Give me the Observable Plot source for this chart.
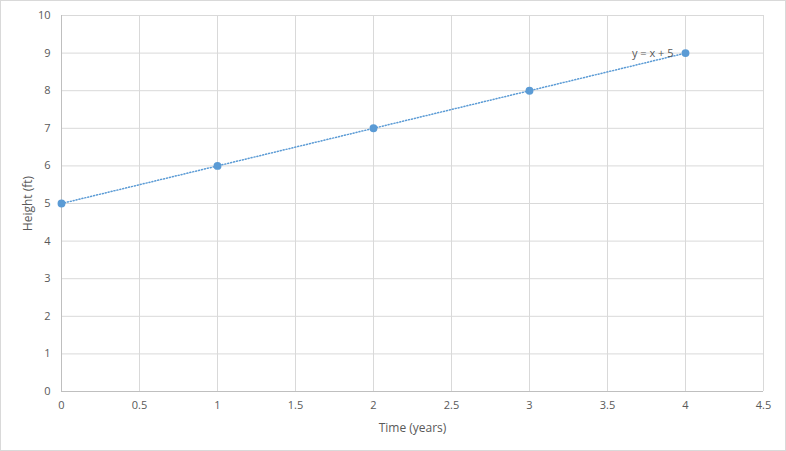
<!DOCTYPE html>
<html>
<head>
<meta charset="utf-8">
<script src="https://cdn.jsdelivr.net/npm/d3@7"></script>
<script src="https://cdn.jsdelivr.net/npm/@observablehq/plot@0.6"></script>
<style>
  html, body { margin: 0; padding: 0; background: #fff; }
  #chart { width: 786px; height: 451px; box-sizing: border-box; border: 1px solid #d9d9d9; overflow: hidden; }
  #chart svg { display: block; }
  #chart svg [aria-label="x-axis label"] text, #chart svg [aria-label="y-axis label"] text { font-size: 12px; }
</style>
</head>
<body>
<div id="chart"></div>
<script>
const time = [0, 1, 2, 3, 4];
const height = [5, 6, 7, 8, 9];
const xTicks = [0, 0.5, 1, 1.5, 2, 2.5, 3, 3.5, 4, 4.5];
const yTicks = [0, 1, 2, 3, 4, 5, 6, 7, 8, 9, 10];
const equationLabel = "y = x + 5";
const xLabel = "Time (years)";
const yLabel = "Height (ft)";

const data = time.map((t, i) => ({time: t, height: height[i]}));
const color = "#5b9bd5";
const textColor = "#595959";
const font = "'Open Sans', sans-serif";

const chart = Plot.plot({
  width: 784,
  height: 449,
  marginLeft: 60,
  marginRight: 22,
  marginTop: 14,
  marginBottom: 59,
  style: {fontFamily: font, fontSize: "11px", color: textColor, background: "#fff"},
  x: {domain: [0, 4.5], ticks: xTicks},
  y: {domain: [0, 10], ticks: yTicks},
  marks: [
    Plot.gridX(xTicks, {stroke: "#d9d9d9", strokeOpacity: 1}),
    Plot.gridY(yTicks, {stroke: "#d9d9d9", strokeOpacity: 1}),
    Plot.ruleX([0], {stroke: "#bfbfbf"}),
    Plot.ruleY([0], {stroke: "#bfbfbf"}),
    Plot.axisX(xTicks, {tickSize: 0, tickPadding: 10, tickFormat: d => String(d), fill: textColor,
      label: xLabel, labelAnchor: "center", labelArrow: "none", labelOffset: 40}),
    Plot.axisY(yTicks, {tickSize: 0, tickPadding: 11, fill: textColor,
      label: yLabel, labelAnchor: "center", labelArrow: "none", labelOffset: 38}),
    Plot.linearRegressionY(data, {x: "time", y: "height", ci: 0, stroke: color, strokeWidth: 1.5, strokeDasharray: "1,2"}),
    Plot.dot(data, {x: "time", y: "height", r: 3.2, fill: color, stroke: color}),
    Plot.text([data[data.length - 1]], {x: "time", y: "height", text: () => equationLabel,
      textAnchor: "end", dx: -12, dy: 0, fill: textColor, fontSize: 11})
  ]
});
document.getElementById("chart").appendChild(chart);
</script>
</body>
</html>
